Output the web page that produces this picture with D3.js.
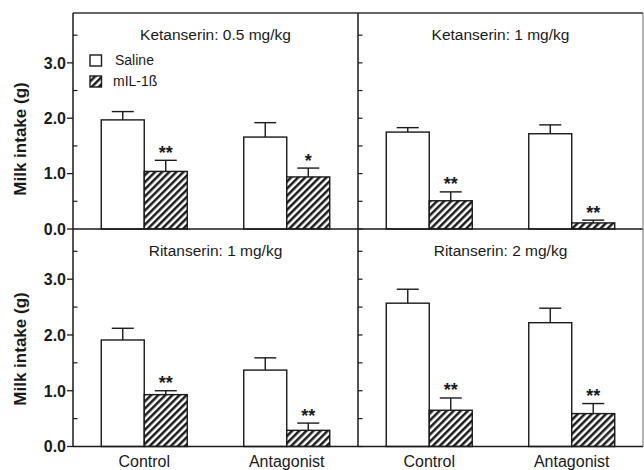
<!DOCTYPE html>
<html>
<head>
<meta charset="utf-8">
<script src="https://cdn.jsdelivr.net/npm/d3@7/dist/d3.min.js"></script>
<style>
  html, body { margin: 0; padding: 0; background: #fff; }
  svg { display: block; font-family: "Liberation Sans", Arial, Helvetica, sans-serif; }
</style>
</head>
<body>
<svg id="chart" width="644" height="470"></svg>
<script>
// ---- data ----
const panelTitles = ["Ketanserin: 0.5 mg/kg", "Ketanserin: 1 mg/kg", "Ritanserin: 1 mg/kg", "Ritanserin: 2 mg/kg"];
const categories = ["Control", "Antagonist"];
const seriesNames = ["Saline", "mIL-1ß"];
const salineMeans = [[1.97, 1.66], [1.75, 1.72], [1.91, 1.37], [2.57, 2.22]];
const salineSEM   = [[0.15, 0.26], [0.08, 0.16], [0.21, 0.22], [0.25, 0.26]];
const ilMeans     = [[1.04, 0.94], [0.51, 0.11], [0.93, 0.29], [0.65, 0.59]];
const ilSEM       = [[0.20, 0.16], [0.16, 0.05], [0.07, 0.13], [0.22, 0.18]];
const ilStars     = [["**", "*"], ["**", "**"], ["**", "**"], ["**", "**"]];
const majorTicks  = [0, 1, 2, 3];
const majorLabels = ["0.0", "1.0", "2.0", "3.0"];
const minorTicks  = [0.5, 1.5, 2.5, 3.5];
const yMax = 3.9;
const yTitle = "Milk intake (g)";

// ---- layout ----
const svg = d3.select("#chart");
const xL = 73, xMid = 358, xR = 643;
const rows = [{top: 13, bottom: 229}, {top: 229, bottom: 446.5}];
const cols = [{left: xL, right: xMid}, {left: xMid, right: xR}];

const defs = svg.append("defs");
const hs = 5;
const pat = defs.append("pattern")
  .attr("id", "hatch").attr("patternUnits", "userSpaceOnUse")
  .attr("width", hs).attr("height", hs)
  .attr("patternTransform", "rotate(45)");
pat.append("rect").attr("width", hs).attr("height", hs).attr("fill", "#fff");
pat.append("line").attr("x1", 1.3).attr("y1", 0).attr("x2", 1.3).attr("y2", hs)
  .attr("stroke", "#111").attr("stroke-width", 2.4);

const ink = "#1a1a1a";

const yScales = rows.map(r => d3.scaleLinear().domain([0, yMax]).range([r.bottom, r.top]));

panelTitles.forEach((title, p) => {
  const r = rows[Math.floor(p / 2)], c = cols[p % 2];
  const y = yScales[Math.floor(p / 2)];
  const x0 = d3.scalePoint().domain(categories).range([c.left, c.right]).padding(0.5);
  const x1 = d3.scaleBand().domain(seriesNames).range([-43, 43]).padding(0);
  const g = svg.append("g");

  // title
  g.append("text").attr("x", (c.left + c.right) / 2).attr("y", r.top + 26.5)
    .attr("text-anchor", "middle").attr("font-size", 15.5).attr("fill", ink).text(title);

  const rowsData = categories.map((cat, i) => [
    {cat, s: seriesNames[0], v: salineMeans[p][i], e: salineSEM[p][i], star: ""},
    {cat, s: seriesNames[1], v: ilMeans[p][i], e: ilSEM[p][i], star: ilStars[p][i]}
  ]).flat();

  const bars = g.selectAll("g.bar").data(rowsData).join("g").attr("class", "bar");
  // error bars
  bars.append("line")
    .attr("x1", d => x0(d.cat) + x1(d.s) + x1.bandwidth() / 2)
    .attr("x2", d => x0(d.cat) + x1(d.s) + x1.bandwidth() / 2)
    .attr("y1", d => y(d.v)).attr("y2", d => y(d.v + d.e))
    .attr("stroke", ink).attr("stroke-width", 1.4);
  bars.append("line")
    .attr("x1", d => x0(d.cat) + x1(d.s) + x1.bandwidth() / 2 - 11)
    .attr("x2", d => x0(d.cat) + x1(d.s) + x1.bandwidth() / 2 + 11)
    .attr("y1", d => y(d.v + d.e)).attr("y2", d => y(d.v + d.e))
    .attr("stroke", ink).attr("stroke-width", 1.4);
  bars.append("rect")
    .attr("x", d => x0(d.cat) + x1(d.s))
    .attr("width", x1.bandwidth())
    .attr("y", d => y(d.v))
    .attr("height", d => y(0) - y(d.v))
    .attr("fill", d => d.s === seriesNames[0] ? "#fff" : "url(#hatch)")
    .attr("stroke", ink).attr("stroke-width", 1.4);
  bars.filter(d => d.star).append("text")
    .attr("x", d => x0(d.cat) + x1(d.s) + x1.bandwidth() / 2)
    .attr("y", d => y(d.v + d.e) - 1.5)
    .attr("text-anchor", "middle").attr("font-size", 18).attr("font-weight", "bold")
    .attr("fill", ink).text(d => d.star);

  // category labels on bottom row
  if (Math.floor(p / 2) === 1) {
    g.selectAll("text.cat").data(categories).join("text").attr("class", "cat")
      .attr("x", d => x0(d)).attr("y", 466.5).attr("text-anchor", "middle")
      .attr("font-size", 16).attr("fill", ink).text(d => d);
  }

  // inner ticks on right panel's left edge
  if (p % 2 === 1) {
    g.selectAll("line.rt").data(majorTicks.concat(minorTicks)).join("line")
      .attr("x1", c.left).attr("x2", c.left + 4.5)
      .attr("y1", d => y(d)).attr("y2", d => y(d))
      .attr("stroke", ink).attr("stroke-width", 1.2);
  }
});

// left axes
rows.forEach((r, i) => {
  const y = yScales[i];
  const ax = svg.append("g");
  ax.selectAll("line.maj").data(majorTicks).join("line")
    .attr("x1", xL - 6).attr("x2", xL).attr("y1", d => y(d)).attr("y2", d => y(d))
    .attr("stroke", ink).attr("stroke-width", 1.3);
  ax.selectAll("line.min").data(minorTicks).join("line")
    .attr("x1", xL).attr("x2", xL + 4.5).attr("y1", d => y(d)).attr("y2", d => y(d))
    .attr("stroke", ink).attr("stroke-width", 1.2);
  ax.selectAll("text.lab").data(majorTicks).join("text")
    .attr("x", xL - 7).attr("y", d => y(d) + 5.8).attr("text-anchor", "end")
    .attr("font-size", 16).attr("font-weight", "bold").attr("fill", ink)
    .text((d, k) => majorLabels[k]);
  const cy = i === 0 ? 139 : 349;
  ax.append("text").attr("transform", `translate(26,${cy}) rotate(-90)`)
    .attr("text-anchor", "middle").attr("font-size", 17).attr("font-weight", "bold")
    .attr("fill", ink).text(yTitle);
  // zero/baseline line
  ax.append("line").attr("x1", xL).attr("x2", xR).attr("y1", y(0)).attr("y2", y(0))
    .attr("stroke", ink).attr("stroke-width", 1.5);
});

// frame lines
svg.append("line").attr("x1", xL).attr("x2", xR).attr("y1", 13).attr("y2", 13)
  .attr("stroke", "#333").attr("stroke-width", 1.3);
svg.append("line").attr("x1", xL).attr("x2", xL).attr("y1", 13).attr("y2", 446.5)
  .attr("stroke", ink).attr("stroke-width", 1.5);
svg.append("line").attr("x1", xMid).attr("x2", xMid).attr("y1", 13).attr("y2", 446.5)
  .attr("stroke", ink).attr("stroke-width", 1.5);
svg.append("line").attr("x1", xR).attr("x2", xR).attr("y1", 13).attr("y2", 446.5)
  .attr("stroke", "#666").attr("stroke-width", 1);

// legend (top-left panel)
const legend = svg.append("g");
const legItems = seriesNames.map((s, i) => ({s, i}));
legend.selectAll("rect").data(legItems).join("rect")
  .attr("x", 90).attr("y", d => 55 + d.i * 21).attr("width", 11.5).attr("height", 11)
  .attr("fill", d => d.i === 0 ? "#fff" : "url(#hatch)")
  .attr("stroke", ink).attr("stroke-width", 1.4);
legend.selectAll("text").data(legItems).join("text")
  .attr("x", d => d.i === 0 ? 115 : 113).attr("y", d => 64.5 + d.i * 21)
  .attr("font-size", 14).attr("fill", ink).text(d => d.s);
</script>
</body>
</html>
